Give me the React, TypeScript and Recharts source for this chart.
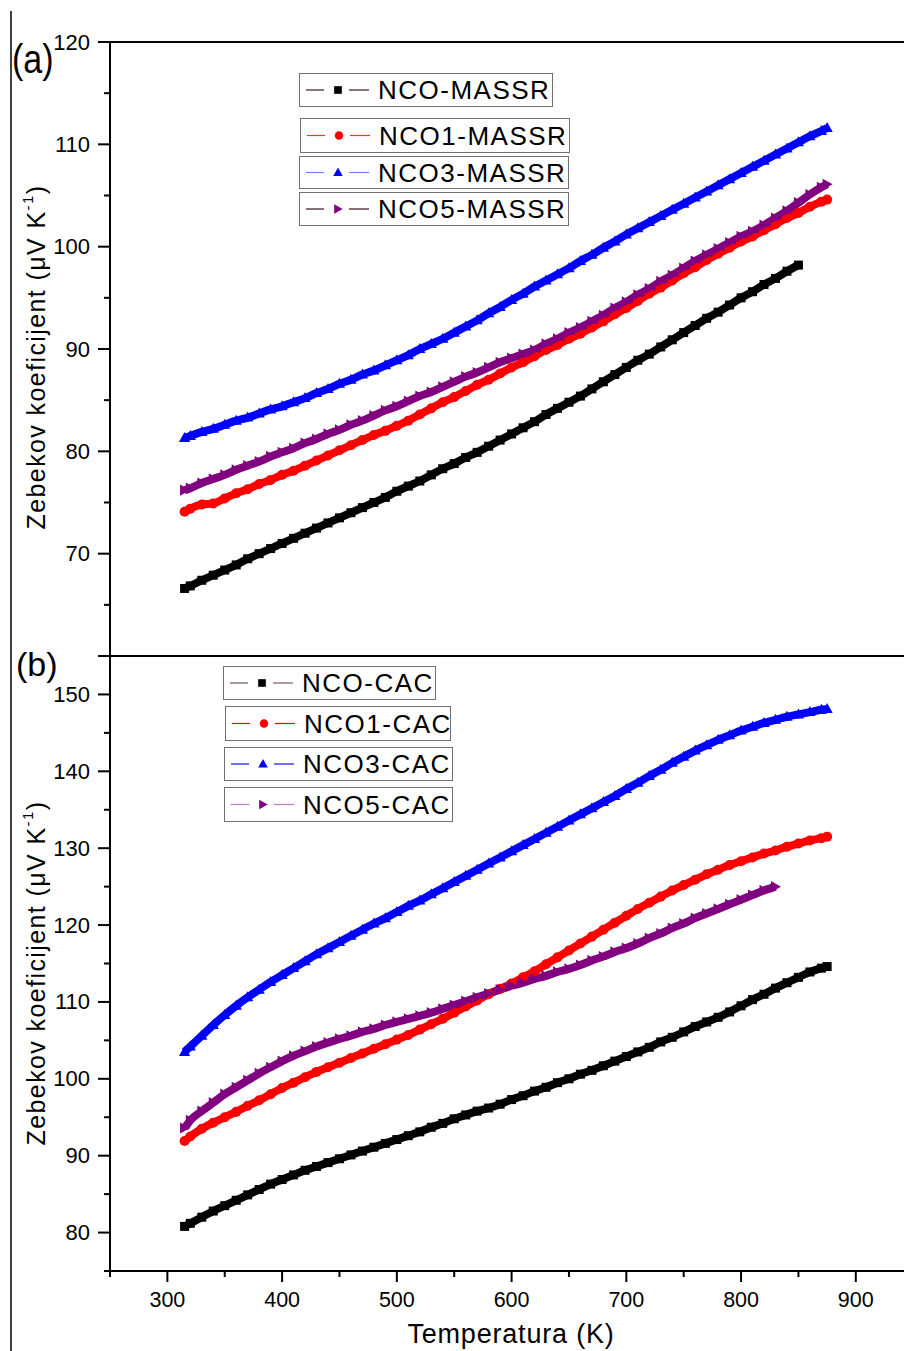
import React from 'react';
import { LineChart, Line, XAxis, YAxis, ReferenceLine, Label } from 'recharts';

const FONT = '"Liberation Sans", Arial, Helvetica, sans-serif';

// temperature grid (K) shared by all series
const temps = [315, 320, 330, 340, 350, 360, 370, 380, 390, 400, 410, 420, 430, 440, 450, 460, 470, 480, 490, 500,
  510, 520, 530, 540, 550, 560, 570, 580, 590, 600, 610, 620, 630, 640, 650, 660, 670, 680, 690, 700,
  710, 720, 730, 740, 750, 760, 770, 780, 790, 800, 810, 820, 830, 840, 850, 860, 870, 875];

// (a) MASSR samples
const ncoMassr = [66.6, 66.85, 67.4, 67.9, 68.4, 68.9, 69.5, 70.0, 70.5, 71.0, 71.5, 72.0, 72.5, 73.0, 73.5, 74.0, 74.5, 75.0, 75.5, 76.1,
  76.6, 77.1, 77.7, 78.3, 78.8, 79.4, 79.9, 80.5, 81.1, 81.7, 82.3, 82.9, 83.6, 84.2, 84.8, 85.4, 86.1, 86.8, 87.5, 88.2,
  88.9, 89.5, 90.2, 90.9, 91.6, 92.3, 93.0, 93.6, 94.3, 95.0, 95.6, 96.3, 96.9, 97.6, 98.2, null, null, null];
const nco1Massr = [74.1, 74.4, 74.8, 74.9, 75.4, 75.9, 76.3, 76.8, 77.2, 77.7, 78.1, 78.6, 79.1, 79.6, 80.1, 80.6, 81.1, 81.6, 82.0, 82.5,
  83.0, 83.6, 84.2, 84.8, 85.3, 85.9, 86.5, 87.0, 87.6, 88.2, 88.7, 89.3, 89.9, 90.4, 91.0, 91.5, 92.1, 92.7, 93.4, 94.0,
  94.7, 95.4, 96.0, 96.7, 97.4, 98.0, 98.7, 99.3, 99.9, 100.5, 101.0, 101.6, 102.2, 102.8, 103.3, 103.9, 104.4, 104.6];
const nco3Massr = [81.3, 81.5, 81.9, 82.2, 82.6, 83.0, 83.3, 83.7, 84.1, 84.4, 84.8, 85.2, 85.7, 86.1, 86.6, 87.0, 87.5, 87.9, 88.4, 88.9,
  89.4, 90.0, 90.5, 91.0, 91.6, 92.2, 92.8, 93.5, 94.1, 94.8, 95.4, 96.1, 96.7, 97.3, 97.9, 98.6, 99.2, 99.9, 100.5, 101.2,
  101.8, 102.4, 103.0, 103.6, 104.2, 104.8, 105.4, 106.0, 106.6, 107.2, 107.8, 108.4, 109.0, 109.6, 110.2, 110.8, 111.3, 111.6];
const nco5Massr = [76.2, 76.4, 76.9, 77.3, 77.7, 78.2, 78.6, 79.0, 79.5, 79.9, 80.3, 80.8, 81.2, 81.7, 82.1, 82.6, 83.0, 83.5, 84.0, 84.4,
  84.9, 85.4, 85.8, 86.3, 86.8, 87.3, 87.7, 88.2, 88.7, 89.1, 89.5, 89.9, 90.5, 91.0, 91.6, 92.1, 92.7, 93.3, 94.0, 94.6,
  95.3, 95.9, 96.6, 97.2, 97.9, 98.6, 99.2, 99.8, 100.4, 101.0, 101.5, 102.1, 102.8, 103.5, 104.3, 105.1, 105.8, 106.1];

// (b) CAC samples
const ncoCac = [80.8, 81.2, 82.0, 82.8, 83.5, 84.2, 84.9, 85.6, 86.3, 86.9, 87.5, 88.1, 88.6, 89.1, 89.6, 90.1, 90.6, 91.1, 91.6, 92.1,
  92.6, 93.1, 93.7, 94.2, 94.8, 95.3, 95.8, 96.2, 96.7, 97.3, 97.8, 98.4, 98.9, 99.5, 100.0, 100.6, 101.1, 101.7, 102.3, 102.9,
  103.5, 104.1, 104.8, 105.4, 106.1, 106.8, 107.4, 108.0, 108.7, 109.5, 110.3, 111.0, 111.8, 112.5, 113.2, 113.9, 114.4, 114.6];
const nco1Cac = [91.9, 92.5, 93.5, 94.3, 95.0, 95.7, 96.5, 97.2, 98.0, 98.8, 99.5, 100.2, 100.9, 101.5, 102.1, 102.7, 103.3, 103.9, 104.5, 105.1,
  105.7, 106.4, 107.1, 107.8, 108.6, 109.4, 110.2, 111.0, 111.7, 112.4, 113.2, 114.0, 114.9, 115.8, 116.7, 117.6, 118.5, 119.4, 120.3, 121.2,
  122.1, 122.9, 123.7, 124.5, 125.2, 125.9, 126.6, 127.2, 127.8, 128.3, 128.8, 129.3, 129.7, 130.2, 130.6, 131.0, 131.3, 131.5];
const nco3Cac = [103.5, 104.2, 105.6, 107.0, 108.3, 109.5, 110.6, 111.6, 112.6, 113.5, 114.4, 115.3, 116.2, 117.0, 117.8, 118.6, 119.4, 120.2, 120.9, 121.7,
  122.5, 123.2, 124.0, 124.8, 125.6, 126.4, 127.2, 128.0, 128.8, 129.6, 130.4, 131.2, 132.0, 132.8, 133.6, 134.4, 135.2, 136.0, 136.8, 137.7,
  138.5, 139.4, 140.2, 141.1, 141.9, 142.7, 143.4, 144.1, 144.7, 145.3, 145.8, 146.3, 146.7, 147.1, 147.4, 147.7, 148.0, 148.1];
const nco5Cac = [93.6, 94.6, 95.8, 96.9, 98.0, 98.9, 99.8, 100.7, 101.5, 102.3, 103.0, 103.6, 104.2, 104.7, 105.2, 105.6, 106.1, 106.5, 107.0, 107.4,
  107.8, 108.2, 108.6, 109.1, 109.6, 110.1, 110.6, 111.1, 111.6, 112.1, 112.5, 113.0, 113.4, 113.9, 114.3, 114.8, 115.4, 115.9, 116.5, 117.0,
  117.6, 118.3, 118.9, 119.6, 120.2, 120.9, 121.5, 122.1, 122.7, 123.3, 123.9, 124.5, 125.0, null, null, null, null, null];

const topNames = ['NCO-MASSR', 'NCO1-MASSR', 'NCO3-MASSR', 'NCO5-MASSR'];
const bottomNames = ['NCO-CAC', 'NCO1-CAC', 'NCO3-CAC', 'NCO5-CAC'];

const topYTicks = [60, 65, 70, 75, 80, 85, 90, 95, 100, 105, 110, 115, 120];
const bottomYTicks = [75, 80, 85, 90, 95, 100, 105, 110, 115, 120, 125, 130, 135, 140, 145, 150, 155];
const xTicks = [250, 300, 350, 400, 450, 500, 550, 600, 650, 700, 750, 800, 850, 900];

const topData = temps.map((t, i) => ({ t, a: ncoMassr[i], b: nco1Massr[i], c: nco3Massr[i], d: nco5Massr[i] }));
const bottomData = temps.map((t, i) => ({ t, a: ncoCac[i], b: nco1Cac[i], c: nco3Cac[i], d: nco5Cac[i] }));

const AXIS_X = 110;
const X_AXIS_Y = 1271;

const Marker = ({ kind, cx, cy, color, s = 1 }: any) => {
  if (kind === 'square') return <rect x={cx - 4.5 * s} y={cy - 4.5 * s} width={9 * s} height={9 * s} fill={color} />;
  if (kind === 'circle') return <circle cx={cx} cy={cy} r={5 * s} fill={color} />;
  if (kind === 'up') return <polygon points={`${cx},${cy - 6 * s} ${cx - 5.6 * s},${cy + 4 * s} ${cx + 5.6 * s},${cy + 4 * s}`} fill={color} />;
  return <polygon points={`${cx - 4.5 * s},${cy - 5.6 * s} ${cx + 5.5 * s},${cy} ${cx - 4.5 * s},${cy + 5.6 * s}`} fill={color} />;
};

const dotFor = (kind: string, color: string) => (p: any) => {
  if (p.cx == null || p.cy == null || p.value == null) return <g key={p.index} />;
  return <g key={p.index}><Marker kind={kind} cx={p.cx} cy={p.cy} color={color} /></g>;
};

const YTick = ({ y, payload, lo, hi }: any) => {
  const v = payload.value;
  const major = v % 10 === 0;
  const len = major ? 12 : 6;
  return (
    <g>
      <line x1={AXIS_X - len} y1={y} x2={AXIS_X} y2={y} stroke="#000" strokeWidth={2} />
      {major && v >= lo && v <= hi && (
        <text x={90} y={y} textAnchor="end" dominantBaseline="central" fontSize={22} fontFamily={FONT} fill="#000">{v}</text>
      )}
    </g>
  );
};

const XTick = ({ x, payload }: any) => {
  const v = payload.value;
  const major = v % 100 === 0;
  const len = major ? 11 : 6;
  return (
    <g>
      <line x1={x} y1={X_AXIS_Y} x2={x} y2={X_AXIS_Y + len} stroke="#000" strokeWidth={2} />
      {major && (
        <text x={x} y={1300} textAnchor="middle" dominantBaseline="central" fontSize={21.5} fontFamily={FONT} fill="#000">{v}</text>
      )}
    </g>
  );
};

const YTitle = ({ cy }: { cy: number }) => (
  <text transform={`translate(36,${cy}) rotate(-90)`} textAnchor="middle" dominantBaseline="central"
    fontSize={25} fontFamily={FONT} letterSpacing={1.4} fill="#000">
    Zebekov koeficijent (μV K<tspan dy={-9} fontSize={15}>-1</tspan><tspan dy={9}>)</tspan>
  </text>
);

const kinds = ['square', 'circle', 'up', 'right'];
const seriesColors = ['#000000', '#ff0000', '#0000ff', '#800080'];

const topLegend = [
  { left: 299, top: 73, width: 254, height: 34, line: '#3a1a1a' },
  { left: 300, top: 118, width: 270, height: 35, line: '#ff3030' },
  { left: 299, top: 156, width: 270, height: 33, line: '#7f7fff' },
  { left: 299, top: 192, width: 270, height: 34, line: '#3a1020' },
];
const bottomLegend = [
  { left: 223, top: 666, width: 213, height: 34, line: '#7a5868' },
  { left: 225, top: 706, width: 226, height: 35, line: '#ff0000' },
  { left: 224, top: 747, width: 229, height: 34, line: '#1010ff' },
  { left: 224, top: 787, width: 229, height: 35, line: '#c080c0' },
];

const LegendBox = ({ box, name, kind, color }: any) => (
  <div style={{
    position: 'absolute', left: box.left, top: box.top, width: box.width, height: box.height,
    border: '1px solid #707070', background: '#fff', boxSizing: 'border-box',
  }}>
    <svg width={76} height={box.height - 2} style={{ position: 'absolute', left: 0, top: 0 }}>
      <line x1={6} x2={24} y1={(box.height - 2) / 2} y2={(box.height - 2) / 2} stroke={box.line} strokeWidth={1.2} />
      <Marker kind={kind} cx={38} cy={(box.height - 2) / 2} color={color} s={0.85} />
      <line x1={49} x2={69} y1={(box.height - 2) / 2} y2={(box.height - 2) / 2} stroke={box.line} strokeWidth={1.2} />
    </svg>
    <span style={{
      position: 'absolute', left: 78, top: '50%', transform: 'translateY(-50%)', fontFamily: FONT,
      fontSize: 26, letterSpacing: 1.5, lineHeight: 1, color: '#000', whiteSpace: 'nowrap',
    }}>{name}</span>
  </div>
);

const seriesLines = () => ['a', 'b', 'c', 'd'].map((k, i) => (
  <Line key={k} dataKey={k} type="monotone" stroke={seriesColors[i]} strokeWidth={8} dot={dotFor(kinds[i], seriesColors[i])}
    activeDot={false} isAnimationActive={false} connectNulls={false} />
));

export default function App() {
  return (
    <div style={{ position: 'absolute', left: 0, top: 0, width: 904, height: 1351, background: '#fff', overflow: 'hidden' }}>
      <div style={{ position: 'absolute', left: 0, top: 0 }}>
        <LineChart width={904} height={1351} data={bottomData} margin={{ top: 656, right: 0, bottom: 0, left: 50 }}>
          <XAxis dataKey="t" type="number" domain={[250, 942]} ticks={xTicks} interval={0} allowDataOverflow
            tickLine={false} tick={(p: any) => <XTick {...p} />} axisLine={{ stroke: '#000', strokeWidth: 2 }} height={80}>
            <Label content={() => (
              <text x={511} y={1334} textAnchor="middle" dominantBaseline="central" fontSize={27} letterSpacing={0.8}
                fontFamily={FONT} fill="#000">Temperatura (K)</text>
            )} />
          </XAxis>
          <YAxis type="number" domain={[75, 155]} ticks={bottomYTicks} interval={0} allowDataOverflow width={60}
            tickLine={false} tick={(p: any) => <YTick {...p} lo={80} hi={150} />} axisLine={{ stroke: '#000', strokeWidth: 2 }}>
            <Label content={() => <YTitle cy={973} />} />
          </YAxis>
          <ReferenceLine y={155} stroke="#000" strokeWidth={2} />
          {seriesLines()}
        </LineChart>
      </div>
      <div style={{ position: 'absolute', left: 0, top: 0 }}>
        <LineChart width={904} height={660} data={topData} margin={{ top: 42, right: 0, bottom: 4, left: 50 }}>
          <XAxis dataKey="t" type="number" domain={[250, 942]} allowDataOverflow hide />
          <YAxis type="number" domain={[60, 120]} ticks={topYTicks} interval={0} allowDataOverflow width={60}
            tickLine={false} tick={(p: any) => <YTick {...p} lo={70} hi={120} />} axisLine={{ stroke: '#000', strokeWidth: 2 }}>
            <Label content={() => <YTitle cy={357} />} />
          </YAxis>
          <ReferenceLine y={120} stroke="#000" strokeWidth={2} />
          <ReferenceLine y={60} stroke="#000" strokeWidth={2} />
          {seriesLines()}
        </LineChart>
      </div>
      <svg width={904} height={1351} style={{ position: 'absolute', left: 0, top: 0, pointerEvents: 'none' }}>
        <line x1={11} y1={11} x2={11} y2={1351} stroke="#000" strokeWidth={1.5} />
        <text transform="translate(12,73) scale(0.85,1)" fontSize={40} fontFamily={FONT} fill="#000">(a)</text>
        <text x={16} y={676} fontSize={34} fontFamily={FONT} fill="#000">(b)</text>
      </svg>
      {topLegend.map((box, i) => (
        <LegendBox key={'t' + i} box={box} name={topNames[i]} kind={kinds[i]} color={seriesColors[i]} />
      ))}
      {bottomLegend.map((box, i) => (
        <LegendBox key={'b' + i} box={box} name={bottomNames[i]} kind={kinds[i]} color={seriesColors[i]} />
      ))}
    </div>
  );
}
